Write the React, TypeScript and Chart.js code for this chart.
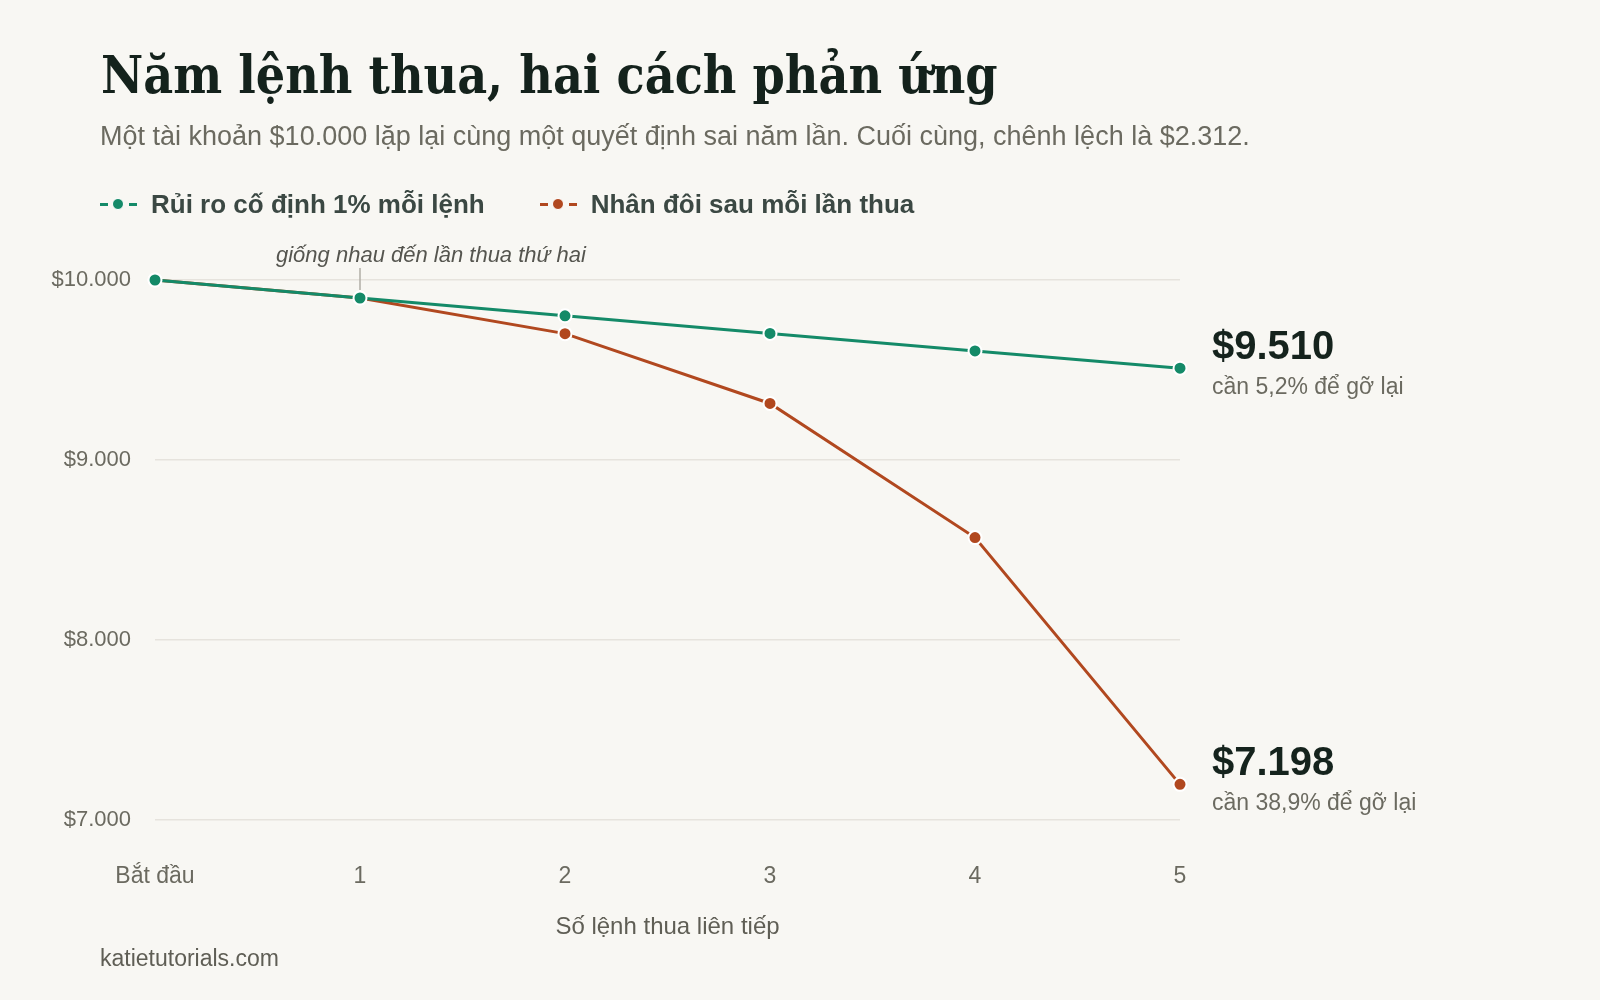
import React, { useEffect, useRef } from 'react';
import { Chart, registerables } from 'chart.js';

Chart.register(...registerables);

// data
const lossLabels = ['Bắt đầu', '1', '2', '3', '4', '5'];
const fixedRisk = [10000, 9900, 9801, 9703, 9606, 9510];
const doubling = [10000, 9900, 9702, 9314, 8569, 7198];
const yTicks = [7000, 8000, 9000, 10000];
const seriesNames = ['Rủi ro cố định 1% mỗi lệnh', 'Nhân đôi sau mỗi lần thua'];
const endNotes = ['cần 5,2% để gỡ lại', 'cần 38,9% để gỡ lại'];
const noteText = 'giống nhau đến lần thua thứ hai';

const GREEN = '#148a68';
const ORANGE = '#b1481f';
const BG = '#f8f7f3';
const SANS = '"Liberation Sans", Arial, sans-serif';

const money = (v: number) => '$' + String(Math.round(v)).replace(/\B(?=(\d{3})+(?!\d))/g, '.');

const endLabels = {
  id: 'endLabels',
  afterDatasetsDraw(chart: any) {
    const ctx = chart.ctx;
    chart.data.datasets.forEach((ds: any, i: number) => {
      const meta = chart.getDatasetMeta(i);
      const pt = meta.data[meta.data.length - 1];
      if (!pt) return;
      const v = ds.data[ds.data.length - 1];
      ctx.save();
      ctx.textAlign = 'left';
      ctx.textBaseline = 'alphabetic';
      ctx.fillStyle = '#15231d';
      ctx.font = `bold 40px ${SANS}`;
      ctx.fillText(money(v), pt.x + 32, pt.y - 9);
      ctx.fillStyle = '#6b6a60';
      ctx.font = `23px ${SANS}`;
      ctx.fillText(endNotes[i], pt.x + 32, pt.y + 26);
      ctx.restore();
    });
  },
};

const sameNote = {
  id: 'sameNote',
  afterDatasetsDraw(chart: any) {
    const ctx = chart.ctx;
    const x = chart.scales.x.getPixelForValue(1);
    const py = chart.scales.y.getPixelForValue(fixedRisk[1]);
    const top = chart.chartArea.top;
    ctx.save();
    ctx.strokeStyle = '#b0aea6';
    ctx.lineWidth = 1.5;
    ctx.beginPath();
    ctx.moveTo(x, top - 12);
    ctx.lineTo(x, py - 8);
    ctx.stroke();
    ctx.fillStyle = '#55554f';
    ctx.font = `italic 22px ${SANS}`;
    ctx.textAlign = 'left';
    ctx.textBaseline = 'alphabetic';
    ctx.fillText(noteText, x - 84, top - 18);
    ctx.restore();
  },
};

const LegendMark: React.FC<{ color: string }> = ({ color }) => (
  <span style={{ position: 'relative', display: 'inline-block', width: 37, height: 14, marginRight: 14, verticalAlign: 'middle' }}>
    <span style={{ position: 'absolute', left: 0, top: 6, width: 8, height: 2.5, background: color }} />
    <span style={{ position: 'absolute', left: 12, top: 1, width: 10, height: 10, borderRadius: 7, background: color, border: '1.5px solid #ffffff' }} />
    <span style={{ position: 'absolute', left: 29, top: 6, width: 8, height: 2.5, background: color }} />
  </span>
);

export default function App() {
  const canvasRef = useRef<HTMLCanvasElement>(null);
  const chartRef = useRef<Chart | null>(null);

  useEffect(() => {
    document.body.style.margin = '0';
    if (!canvasRef.current) return;
    chartRef.current = new Chart(canvasRef.current, {
      type: 'line',
      data: {
        labels: lossLabels,
        datasets: [
          {
            label: seriesNames[0],
            data: fixedRisk,
            borderColor: GREEN,
            backgroundColor: GREEN,
            borderWidth: 3,
            pointRadius: 6.5,
            pointBorderColor: '#ffffff',
            pointBorderWidth: 2,
            tension: 0,
            clip: false,
          },
          {
            label: seriesNames[1],
            data: doubling,
            borderColor: ORANGE,
            backgroundColor: ORANGE,
            borderWidth: 3,
            pointRadius: 6.5,
            pointBorderColor: '#ffffff',
            pointBorderWidth: 2,
            tension: 0,
            clip: false,
          },
        ],
      },
      options: {
        responsive: false,
        animation: false,
        layout: { padding: { left: 0, right: 420, top: 280, bottom: 58 } },
        plugins: {
          legend: { display: false },
          tooltip: { enabled: false },
        },
        scales: {
          x: {
            type: 'category',
            offset: false,
            grid: { display: false },
            border: { display: false },
            ticks: { color: '#6b6a60', padding: 35, font: { family: SANS, size: 23 } },
            title: {
              display: true,
              text: 'Số lệnh thua liên tiếp',
              color: '#5f5e55',
              padding: 0,
              font: { family: SANS, size: 24 },
            },
            afterFit: (s: any) => { s.height = 122; },
          },
          y: {
            min: yTicks[0],
            max: yTicks[yTicks.length - 1],
            afterBuildTicks: (s: any) => { s.ticks = yTicks.map((v) => ({ value: v })); },
            grid: { color: '#e6e3dd', lineWidth: 1.5, drawTicks: false },
            border: { display: false },
            ticks: {
              color: '#6b6a60',
              padding: 24,
              font: { family: SANS, size: 22 },
              callback: (v: any) => money(Number(v)),
            },
            afterFit: (s: any) => { s.width = 155; },
          },
        },
      },
      plugins: [endLabels, sameNote],
    });
    return () => {
      chartRef.current?.destroy();
      chartRef.current = null;
    };
  }, []);

  return (
    <div style={{ position: 'relative', width: 1600, height: 1000, background: BG, overflow: 'hidden', fontFamily: SANS }}>
      <canvas ref={canvasRef} width={1600} height={1000} style={{ position: 'absolute', left: 0, top: 0 }} />
      <div style={{ position: 'absolute', left: 101, top: 50, fontFamily: '"DejaVu Serif Condensed", "DejaVu Serif", serif', fontStretch: 'condensed', fontWeight: 700, fontSize: 51.4, lineHeight: 1, color: '#14221c', whiteSpace: 'nowrap' }}>
        Năm lệnh thua, hai cách phản ứng
      </div>
      <div style={{ position: 'absolute', left: 100, top: 123, fontSize: 27, lineHeight: 1, color: '#6b6a60', whiteSpace: 'nowrap' }}>
        Một tài khoản $10.000 lặp lại cùng một quyết định sai năm lần. Cuối cùng, chênh lệch là $2.312.
      </div>
      <div style={{ position: 'absolute', left: 100, top: 191, fontSize: 26, lineHeight: 1, fontWeight: 700, color: '#3b4843', whiteSpace: 'nowrap', display: 'flex', alignItems: 'center' }}>
        <span style={{ display: 'inline-flex', alignItems: 'center', marginRight: 55 }}>
          <LegendMark color={GREEN} />
          {seriesNames[0]}
        </span>
        <span style={{ display: 'inline-flex', alignItems: 'center' }}>
          <LegendMark color={ORANGE} />
          {seriesNames[1]}
        </span>
      </div>
      <div style={{ position: 'absolute', left: 100, top: 947, fontSize: 23, lineHeight: 1, color: '#5f5e55' }}>
        katietutorials.com
      </div>
    </div>
  );
}
